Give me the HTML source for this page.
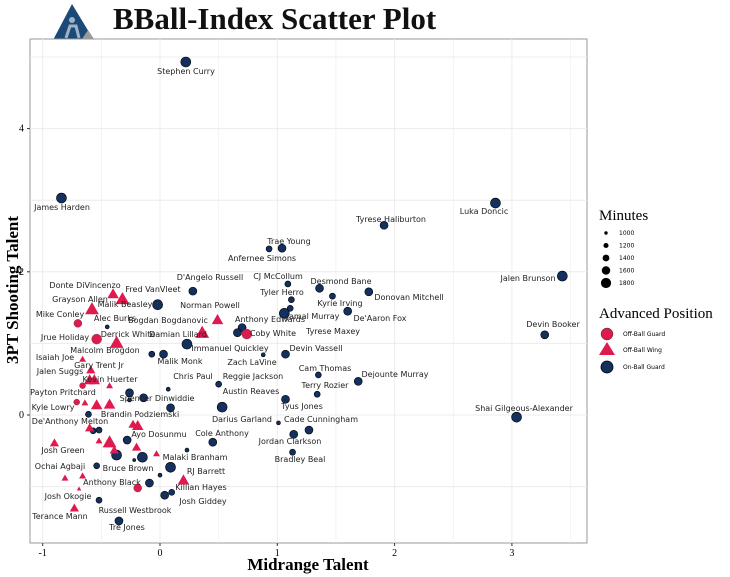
<!DOCTYPE html>
<html><head><meta charset="utf-8"><style>
body{margin:0;background:#fff;width:730px;height:577px;overflow:hidden}
svg{display:block}
.lb{font-family:"DejaVu Sans","Liberation Sans",sans-serif;font-size:8px;fill:#222;text-anchor:middle}
</style></head><body>
<svg id="chart" width="730" height="577">
<g>
<polygon points="52,42 72,4 95,42" fill="#1c4a78"/>
<polygon points="80,42 88,30 96,42" fill="#9a9a9a"/>
<circle cx="72" cy="20" r="3" fill="#9fb3c8"/>
<path d="M66,38 L70,26 L76,26 L79,38" stroke="#9fb3c8" stroke-width="3" fill="none"/>
</g>
<text x="113" y="29" style="font-family:'Liberation Serif',serif;font-weight:bold;font-size:31px;fill:#111">BBall-Index Scatter Plot</text>
<rect x="30" y="39" width="557" height="504" fill="#fff" stroke="#999"/>
<g id="grid"></g>
<g id="ticks"></g>
<g id="marks"></g>
<g id="labels"></g>
<text x="308" y="570" text-anchor="middle" style="font-family:'Liberation Serif',serif;font-weight:bold;font-size:17px">Midrange Talent</text>
<text transform="translate(18,290) rotate(-90)" text-anchor="middle" style="font-family:'Liberation Serif',serif;font-weight:bold;font-size:17px">3PT Shooting Talent</text>
<g style="font-family:'Liberation Serif',serif">
<text x="599" y="220" font-size="15">Minutes</text>
<g id="sizeleg"></g>
<text x="599" y="318" font-size="15">Advanced Position</text>
<circle cx="607" cy="334" r="6" fill="#e0194f" stroke="#333" stroke-width="0.5"/>
<text x="623" y="336" font-size="6" font-family="DejaVu Sans">Off-Ball  Guard</text>
<polygon points="607,342 615,355 599,355" fill="#e0194f"/>
<text x="623" y="352" font-size="6" font-family="DejaVu Sans">Off-Ball  Wing</text>
<circle cx="607" cy="367" r="6" fill="#13305e" stroke="#000" stroke-width="0.8"/>
<text x="623" y="369" font-size="6" font-family="DejaVu Sans">On-Ball  Guard</text>
</g>
</svg>
<script>
const xTicks=[-1,0,1,2,3];
const yTicks=[0,2,4];
const sizeLegend=[1000,1200,1400,1600,1800];
const onBallX=[0.22,-0.84,2.86,1.91,1.04,0.93,3.43,1.09,1.36,1.78,0.28,1.12,1.47,1.11,1.06,1.60,-0.02,0.23,-0.07,0.03,0.70,0.66,3.28,0.88,1.07,1.35,1.69,1.34,1.07,0.53,0.50,0.07,0.09,-0.14,-0.26,-0.26,3.04,1.01,1.14,1.27,1.13,-0.61,-0.57,-0.52,0.45,-0.28,-0.37,-0.15,-0.22,0.23,-0.54,0.09,0.00,-0.09,0.10,0.04,-0.52,-0.35,-0.45];
const onBallY=[4.93,3.03,2.96,2.65,2.33,2.32,1.94,1.83,1.77,1.72,1.73,1.61,1.66,1.49,1.42,1.45,1.54,0.99,0.85,0.85,1.22,1.15,1.12,0.84,0.85,0.56,0.47,0.29,0.22,0.11,0.43,0.36,0.10,0.24,0.31,0.21,-0.03,-0.11,-0.27,-0.21,-0.52,0.01,-0.22,-0.21,-0.38,-0.35,-0.56,-0.59,-0.63,-0.49,-0.71,-0.73,-0.84,-0.95,-1.08,-1.12,-1.19,-1.48,1.23];
const onBallMin=[1600,1600,1600,1400,1400,1200,1600,1200,1400,1400,1400,1200,1200,1200,1600,1400,1600,1600,1200,1400,1400,1400,1400,1000,1400,1200,1400,1200,1400,1600,1200,1000,1400,1400,1400,1000,1600,1000,1400,1400,1200,1200,1200,1200,1400,1400,1600,1600,900,1000,1200,1600,1000,1400,1200,1400,1200,1400,1000];
const guardX=[-0.70,-0.54,0.74,-0.66,-0.71,-0.19];
const guardY=[1.28,1.06,1.13,0.41,0.18,-1.02];
const guardMin=[1400,1600,1600,1200,1200,1400];
const wingX=[-0.40,-0.32,-0.58,0.49,0.36,-0.37,-0.66,-0.59,-0.60,-0.56,-0.43,-0.64,-0.54,-0.43,-0.23,-0.19,-0.60,-0.52,-0.43,-0.90,-0.39,-0.20,-0.03,0.20,-0.81,-0.66,-0.69,-0.73];
const wingY=[1.69,1.62,1.48,1.33,1.15,1.01,0.78,0.63,0.49,0.49,0.41,0.17,0.14,0.15,-0.13,-0.15,-0.18,-0.36,-0.38,-0.39,-0.49,-0.45,-0.54,-0.91,-0.88,-0.85,-1.03,-1.30];
const wingMin=[1600,1800,1800,1600,1800,1800,1200,1400,1600,1600,1200,1200,1600,1600,1400,1600,1400,1200,1800,1400,1400,1400,1200,1600,1200,1200,1000,1400];
const NS='http://www.w3.org/2000/svg';
const sx=v=>160+v*117.3, sy=v=>415-v*71.6, sr=m=>(m-600)/200;
function mk(t,a,p){const e=document.createElementNS(NS,t);for(const k in a)e.setAttribute(k,a[k]);p.appendChild(e);return e;}
const grid=document.getElementById('grid');
for(let v=-1.5;v<=3.5;v+=0.5){const l=mk('line',{x1:sx(v),x2:sx(v),y1:39,y2:543,stroke:'#ececec','stroke-width':Number.isInteger(v)?1:0.6},grid);

}
for(let v=-1;v<=5;v+=1){const l=mk('line',{x1:30,x2:587,y1:sy(v),y2:sy(v),stroke:'#ececec'},grid);

}
const tk=document.getElementById('ticks');
xTicks.forEach(v=>{mk('line',{x1:sx(v),x2:sx(v),y1:543,y2:546,stroke:'#333'},tk);
const t=mk('text',{x:sx(v),y:556,'text-anchor':'middle','font-size':10,'font-family':'Liberation Serif, serif'},tk);t.textContent=v;

});
yTicks.forEach(v=>{mk('line',{x1:27,x2:30,y1:sy(v),y2:sy(v),stroke:'#333'},tk);
const t=mk('text',{x:24,y:sy(v)+3,'text-anchor':'end','font-size':10,'font-family':'Liberation Serif, serif'},tk);t.textContent=v;

});
const g=document.getElementById('marks');
onBallX.forEach((x,i)=>{const c=mk('circle',{cx:sx(x),cy:sy(onBallY[i]),r:sr(onBallMin[i]),fill:'#13305e',stroke:'#000','stroke-width':0.6},g);

});
guardX.forEach((x,i)=>{const c=mk('circle',{cx:sx(x),cy:sy(guardY[i]),r:sr(guardMin[i]),fill:'#e0194f',stroke:'#444','stroke-width':0.4},g);

});
wingX.forEach((x,i)=>{const cx=sx(x),cy=sy(wingY[i]),r=sr(wingMin[i])*1.15;
const p=mk('polygon',{points:`${cx},${cy-r} ${cx+r},${cy+r*0.75} ${cx-r},${cy+r*0.75}`,fill:'#e0194f'},g);

});
const sl=document.getElementById('sizeleg');
sizeLegend.forEach((m,i)=>{const y=233+i*12.5;const c=mk('circle',{cx:606,cy:y,r:sr(m)*0.85,fill:'#000'},sl);


const t=mk('text',{x:619,y:y+2,'font-size':6,'font-family':'DejaVu Sans, sans-serif'},sl);t.textContent=m;});
const labels=[["Stephen Curry",186,74],["James Harden",62,210],["Luka Doncic",484,214],["Tyrese Haliburton",391,222],["Trae Young",289,244],["Anfernee Simons",262,261],["Jalen Brunson",528,281],["CJ McCollum",278,279],["Desmond Bane",341,284],["D'Angelo Russell",210,280],["Tyler Herro",282,295],["Donovan Mitchell",409,300],["Kyrie Irving",340,306],["Jamal Murray",313,319],["De'Aaron Fox",380,321],["Tyrese Maxey",333,334],["Coby White",273,336],["Donte DiVincenzo",85,288],["Fred VanVleet",153,292],["Grayson Allen",80,302],["Malik Beasley",125,307],["Norman Powell",210,308],["Mike Conley",60,317],["Alec Burks",115,321],["Bogdan Bogdanovic",168,323],["Anthony Edwards",270,322],["Damian Lillard",178,337],["Derrick White",128,337],["Jrue Holiday",65,340],["Devin Booker",553,327],["Immanuel Quickley",230,351],["Malcolm Brogdon",105,353],["Devin Vassell",316,351],["Isaiah Joe",55,360],["Malik Monk",180,364],["Zach LaVine",252,365],["Gary Trent Jr",99,368],["Jalen Suggs",60,374],["Cam Thomas",325,371],["Chris Paul",193,379],["Kevin Huerter",110,382],["Reggie Jackson",253,379],["Dejounte Murray",395,377],["Terry Rozier",325,388],["Payton Pritchard",63,395],["Spencer Dinwiddie",157,401],["Austin Reaves",251,394],["Tyus Jones",302,409],["Kyle Lowry",53,410],["Shai Gilgeous-Alexander",524,411],["Brandin Podziemski",140,417],["Darius Garland",242,422],["Cade Cunningham",321,422],["De'Anthony Melton",70,424],["Ayo Dosunmu",159,437],["Cole Anthony",222,436],["Jordan Clarkson",290,444],["Josh Green",63,453],["Malaki Branham",195,460],["Bradley Beal",300,462],["Ochai Agbaji",60,469],["Bruce Brown",128,471],["RJ Barrett",206,474],["Anthony Black",112,485],["Killian Hayes",201,490],["Josh Okogie",68,499],["Josh Giddey",203,504],["Russell Westbrook",135,513],["Terance Mann",60,519],["Tre Jones",127,530]];
const lg=document.getElementById('labels');
labels.forEach(([s,x,y])=>{const t=mk('text',{x:x,y:y,class:'lb'},lg);t.textContent=s;

});
</script>
</body></html>
